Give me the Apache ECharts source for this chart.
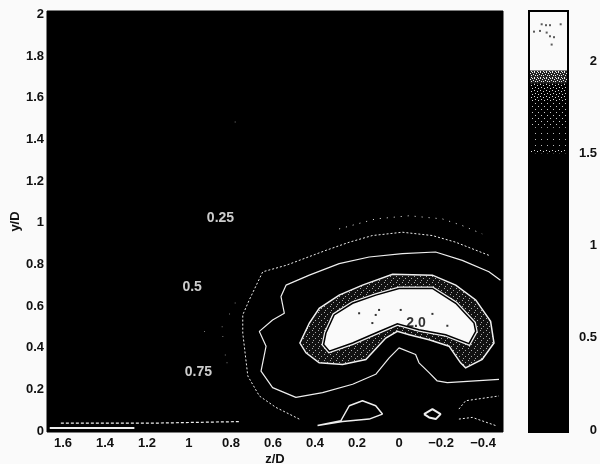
<!DOCTYPE html>
<html><head><meta charset="utf-8">
<style>html,body{margin:0;padding:0;background:#fafafa}#c{width:600px;height:464px}</style>
<script src="https://cdn.jsdelivr.net/npm/echarts@6/dist/echarts.min.js"></script>
</head><body><div id="c"></div>
<script>
const zTicks=[1.6,1.4,1.2,1,0.8,0.6,0.4,0.2,0,-0.2,-0.4];
const yTicks=[0,0.2,0.4,0.6,0.8,1,1.2,1.4,1.6,1.8,2];
const barTicks=[0,0.5,1,1.5,2];
const barBands=[[0,1.5,0],[1.5,1.52,3],[1.52,1.64,1],[1.64,1.78,2],[1.78,1.88,3],[1.88,1.95,4],[1.95,2.272,5]];
const contour20=[[.359,.415],[.348,.47],[.309,.557],[.2215,.613],[.1106,.652],[0,.684],[-.159,.684],[-.27,.613],[-.357,.518],[-.365,.478],[-.333,.419],[-.222,.462],[-.095,.486],[.008,.514],[.111,.47],[.221,.422],[.332,.383]];
const contour15=[[.472,.422],[.427,.518],[.38,.589],[.285,.652],[.174,.7],[.031,.752],[-.159,.748],[-.27,.7],[-.365,.629],[-.436,.526],[-.452,.422],[-.396,.343],[-.317,.303],[-.293,.327],[-.238,.407],[-.143,.438],[-.048,.462],[.008,.478],[.063,.446],[.158,.343],[.269,.319],[.38,.327],[.443,.375]];
const contour10=[[-.476,.248],[-.23,.232],[-.182,.24],[-.143,.28],[-.095,.327],[-.079,.367],[0,.399],[.047,.351],[.111,.272],[.221,.224],[.364,.184],[.491,.161],[.602,.208],[.657,.287],[.633,.407],[.665,.478],[.602,.533],[.546,.565],[.562,.645],[.538,.7],[.427,.748],[.285,.803],[.142,.835],[-.016,.851],[-.174,.859],[-.301,.819],[-.428,.764],[-.483,.724]];
const contour075=[[.475,.057],[.586,.113],[.665,.168],[.72,.264],[.744,.47],[.744,.557],[.713,.629],[.649,.764],[.538,.795],[.348,.867],[.237,.906],[.127,.938],[-.016,.954],[-.159,.938],[-.27,.906],[-.428,.843]];
const contour05=[[.285,.97],[.111,1.018],[-.048,1.033],[-.206,1.018],[-.301,.986],[-.396,.946]];
const blobLeft=[[.388,.026],[.277,.049],[.237,.121],[.174,.145],[.111,.121],[.079,.081],[.142,.057],[.269,.045],[.388,.026]];
const blobSmall=[[-.119,.081],[-.159,.105],[-.198,.081],[-.175,.057],[-.143,.065],[-.119,.081]];
const traceRightUpper=[[-.285,.105],[-.317,.145],[-.476,.168]];
const traceRightLower=[[-.285,.057],[-.349,.065],[-.46,.026]];
const wallSolid=[[1.663,.014],[1.26,.014]];
const wallDotted=[[1.61,.038],[1.14,.038],[.76,.045]];
const faintSpecks=[[.78,.614],[.807,.562],[.842,.5],[.839,.453],[.926,.477],[.827,.365],[.819,.328],[.78,1.483]];
const coreSpecks=[[.19,.565],[.095,.581],[.111,.557],[.127,.518],[-.008,.581],[-.159,.562],[-.23,.505]];
const barSpecks=[[.325,2.2],[.436,2.195],[.538,2.195],[.812,2.2],[.282,2.164],[.128,2.16],[.453,2.155],[.538,2.135],[.641,2.13],[.581,2.09]];
const contourLabels=[[.85,1.024,'0.25'],[.985,.69,'0.5'],[.955,.283,'0.75']];
const coreLabel=[[-.081,.519,'2.0']];

function tile(bg,fg,pts){const c=document.createElement('canvas');c.width=c.height=6;const t=c.getContext('2d');
 t.fillStyle=bg;t.fillRect(0,0,6,6);t.fillStyle=fg;pts.forEach(p=>t.fillRect(p[0],p[1],1,1));return {image:c,repeat:'repeat'};}
const bandFill=tile('#111','#aaa',[[0,0],[3,2],[1,4]]);
const barFills=['#000',tile('#000','#bbb',[[1,1]]),tile('#000','#ccc',[[1,1],[4,4]]),tile('#000','#ddd',[[0,0],[3,1],[1,3],[4,4]]),
 tile('#222','#eee',[[0,0],[2,1],[4,0],[1,3],[3,3],[5,2],[0,5],[3,5]]),'#fafafa'];

function line(data,w,dash,extra){return Object.assign({type:'line',data,symbol:'none',silent:true,xAxisIndex:0,yAxisIndex:0,
 lineStyle:{color:'#eee',width:w,type:dash||'solid'},z:3},extra||{});}
function poly(data,style,z){return {type:'custom',xAxisIndex:0,yAxisIndex:0,z,silent:true,data:[0],clip:true,
 renderItem:(p,api)=>({type:'polygon',shape:{points:data.map(d=>api.coord(d))},style})};}
function specks(data,color,size,xi,yi){return {type:'scatter',xAxisIndex:xi||0,yAxisIndex:yi||0,data,symbol:'rect',symbolSize:size,silent:true,z:7,itemStyle:{color}};}
const fnt={fontFamily:'Liberation Sans',fontWeight:'bold',fontSize:13,color:'#111'};
const axisBase={axisLine:{show:false},axisTick:{show:false},splitLine:{show:false}};

echarts.init(document.getElementById('c'),null,{renderer:'canvas'}).setOption({
 animation:false,backgroundColor:'#fafafa',
 grid:[{left:47,top:11,width:456,height:421,outerBoundsMode:'none',containLabel:false,backgroundColor:'#000',show:true,borderColor:'#000',borderWidth:1},
       {left:529,top:11,width:39,height:421,outerBoundsMode:'none',containLabel:false,show:true,backgroundColor:'#000',borderColor:'#000',borderWidth:0}],
 xAxis:[{type:'value',gridIndex:0,inverse:true,min:-0.495,max:1.676,...axisBase,
   axisLabel:{...fnt,margin:5,customValues:zTicks,formatter:v=>String(v).replace('-','\u2212')},
   name:'z/D',nameLocation:'middle',nameGap:21,nameMoveOverlap:false,nameTextStyle:{...fnt}},
  {type:'value',gridIndex:1,min:0,max:1,show:false}],
 yAxis:[{type:'value',gridIndex:0,min:-0.005,max:2.016,...axisBase,
   axisLabel:{...fnt,margin:3,customValues:yTicks,formatter:v=>String(v)},
   name:'y/D',nameLocation:'middle',nameGap:25,nameMoveOverlap:false,nameTextStyle:{...fnt}},
  {type:'value',gridIndex:1,position:'right',min:-0.011,max:2.272,...axisBase,
   axisLabel:{...fnt,margin:29,align:'right',customValues:barTicks,formatter:v=>String(v)}}],
 series:[
  poly(contour15,{fill:bandFill,stroke:'#f0f0f0',lineWidth:1.5},4),
  poly(contour20,{fill:'#eee',stroke:'#eee',lineWidth:4},5),
  poly(contour20,{fill:'#fafafa',stroke:'#000',lineWidth:1.5},6),
  line(contour10,1.2),
  line(contour075,1,[2,2]),
  line(contour05,1,[1,6]),
  line(blobLeft,1.5),line(blobSmall,2),
  line(traceRightUpper,1,[2,2]),line(traceRightLower,1,[2,2]),
  line(wallSolid,2),line(wallDotted,1.2,[3,2]),
  specks(faintSpecks,'#999',1),
  specks(coreSpecks,'#000',2),
  {type:'scatter',xAxisIndex:0,yAxisIndex:0,symbolSize:0,z:8,silent:true,data:contourLabels,
   label:{show:true,position:'inside',formatter:p=>p.data[2],...fnt,fontSize:14,color:'#fff'}},
  {type:'scatter',xAxisIndex:0,yAxisIndex:0,symbolSize:0,z:8,silent:true,data:coreLabel,
   label:{show:true,position:'inside',formatter:p=>p.data[2],...fnt,fontSize:14,color:'#000'}},
  {type:'custom',xAxisIndex:1,yAxisIndex:1,z:4,silent:true,data:barBands.map((b,i)=>[i]),clip:false,
   renderItem:(p,api)=>{const b=barBands[api.value(0)];
     const a=api.coord([0,b[1]]),c=api.coord([1,b[0]]);
     return {type:'rect',shape:{x:a[0],y:a[1],width:c[0]-a[0],height:c[1]-a[1]},style:{fill:barFills[b[2]],stroke:'#000',lineWidth:0}};}},
  {type:'custom',xAxisIndex:1,yAxisIndex:1,z:5,silent:true,data:[0],clip:false,
   renderItem:(p,api)=>{const a=api.coord([0,2.272]),c=api.coord([1,-0.011]);
     return {type:'rect',shape:{x:a[0],y:a[1],width:c[0]-a[0],height:c[1]-a[1]},style:{fill:'none',stroke:'#000',lineWidth:2}};}},
  specks(barSpecks,'#333',2,1,1)
 ]});
</script></body></html>
